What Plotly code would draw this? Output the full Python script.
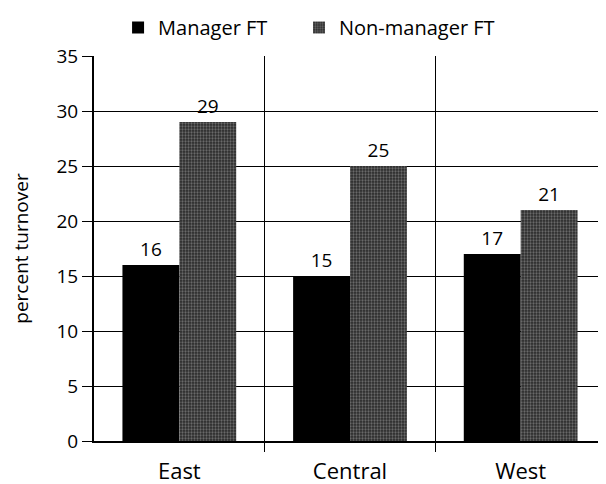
import plotly.graph_objects as go

# Turnover by region
regions = ["East", "Central", "West"]
manager_ft = [16, 15, 17]
non_manager_ft = [29, 25, 21]
y_ticks = [0, 5, 10, 15, 20, 25, 30, 35]

x_pos = list(range(len(regions)))
boundaries = [i + 0.5 for i in x_pos[:-1]]

FONT = "Open Sans"

fig = go.Figure()

fig.add_trace(
    go.Bar(
        x=x_pos,
        y=manager_ft,
        name="Manager FT",
        marker=dict(color="black", line=dict(width=0)),
        text=manager_ft,
        textposition="outside",
        cliponaxis=False,
        legend="legend",
    )
)

fig.add_trace(
    go.Bar(
        x=x_pos,
        y=non_manager_ft,
        name="Non-manager FT",
        marker=dict(
            color="#2a2a2a",
            line=dict(width=0),
            pattern=dict(shape=".", fgcolor="#a8a8a8", bgcolor="#2a2a2a", size=3, solidity=0.45),
        ),
        text=non_manager_ft,
        textposition="outside",
        cliponaxis=False,
        legend="legend2",
    )
)

# one legend box per series so the two entries can be spaced like the original
legend_style = dict(
    orientation="h",
    xanchor="left",
    y=1.1247,
    yanchor="top",
    font=dict(size=20),
    bgcolor="rgba(0,0,0,0)",
)

# page body has an 8px margin, so the figure is sized to fill the window from there
fig.update_layout(
    width=598,
    height=476,
    margin=dict(l=86, r=0, t=48, b=43),
    paper_bgcolor="white",
    plot_bgcolor="white",
    barmode="group",
    bargap=1 / 3,
    bargroupgap=0,
    font=dict(family=FONT, size=20, color="black"),
    legend=dict(x=0.047, **legend_style),
    legend2=dict(x=0.4004, **legend_style),
    showlegend=True,
)

fig.update_traces(textfont=dict(size=19, color="black"))

fig.update_xaxes(
    range=[-0.5, 2.5],
    tickmode="array",
    tickvals=x_pos,
    ticktext=regions,
    ticks="",
    ticklabelstandoff=10,
    showgrid=False,
    showline=True,
    linecolor="black",
    linewidth=2,
    tickfont=dict(size=22),
    minor=dict(
        tickmode="array",
        tickvals=boundaries,
        ticks="outside",
        ticklen=9,
        tickcolor="black",
        tickwidth=1,
        showgrid=True,
        gridcolor="black",
        gridwidth=1,
    ),
    zeroline=False,
)

fig.update_yaxes(
    range=[0, 35],
    tickmode="array",
    tickvals=y_ticks,
    ticks="outside",
    ticklen=10,
    tickcolor="black",
    showgrid=True,
    gridcolor="black",
    gridwidth=1,
    showline=True,
    linecolor="black",
    linewidth=2,
    zeroline=False,
    tickfont=dict(size=19),
    title=dict(text="percent turnover", font=dict(size=19), standoff=33),
)

fig.write_html("out.html")
